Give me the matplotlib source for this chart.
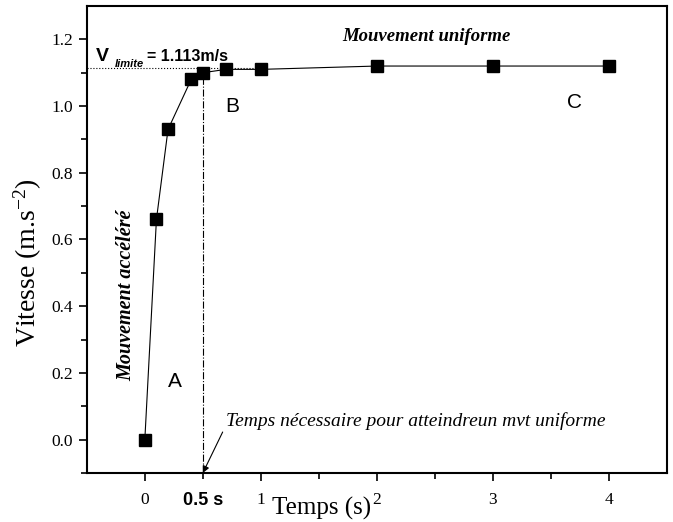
import matplotlib
matplotlib.use('Agg')
import matplotlib.pyplot as plt
import matplotlib.transforms as mtransforms

# donnees
temps = [0, 0.1, 0.2, 0.4, 0.5, 0.7, 1, 2, 3, 4]
vitesse = [0.0, 0.66, 0.93, 1.08, 1.10, 1.11, 1.11, 1.12, 1.12, 1.12]
v_limite = 1.113
t_uniforme = 0.5
x_ticks = [0, 1, 2, 3, 4]
y_ticks = [0.0, 0.2, 0.4, 0.6, 0.8, 1.0, 1.2]

plt.rcParams['mathtext.fontset'] = 'custom'
plt.rcParams['mathtext.rm'] = 'Liberation Serif'
plt.rcParams['mathtext.it'] = 'Liberation Serif:italic'

fig = plt.figure(figsize=(6.73, 5.22), dpi=100)
ax = fig.add_axes([0.129, 0.094, 0.862, 0.8945])

ax.plot(temps, vitesse, color='black', lw=0.8, marker='s', markersize=8,
        markerfacecolor='black', markeredgecolor='black', zorder=3)

# ligne v limite et temps necessaire
ax.plot([-0.5, 1.0], [v_limite, v_limite], color='black', lw=0.8, ls=':', zorder=2)
ax.plot([t_uniforme, t_uniforme], [-0.1, 1.10], color='black', lw=0.8, ls='-.', zorder=2)

ax.set_xlim(-0.5, 4.5)
ax.set_ylim(-0.1, 1.3)
ax.set_xticks(x_ticks)
ax.set_xticks([0.5, 1.5, 2.5, 3.5], minor=True)
ax.set_yticks(y_ticks)
ax.set_yticks([-0.1, 0.1, 0.3, 0.5, 0.7, 0.9, 1.1], minor=True)
ax.set_xticklabels([str(t) for t in x_ticks], family='Liberation Serif', fontsize=12.5)
ax.set_yticklabels(['%.1f' % v for v in y_ticks], family='Liberation Serif', fontsize=12.5)
ax.tick_params(which='major', direction='out', length=6, width=1.2, pad=4)
ax.tick_params(axis='x', which='major', pad=8)
ax.tick_params(which='minor', direction='out', length=4, width=1.2)
for s in ax.spines.values():
    s.set_linewidth(1.5)

trans = mtransforms.blended_transform_factory(ax.transData, ax.transAxes)
ax.text(0.5, -0.04, '0.5 s', transform=trans, ha='center', va='top',
        family='Liberation Sans', fontweight='bold', fontsize=13)

# titres des axes
ax.text(1.52, -0.052, 'Temps (s)', transform=trans, ha='center', va='top',
        family='Liberation Serif', fontsize=18)
ax.text(-1.01, 0.53, r'Vitesse (m.s$^{\mathrm{-2}}$)', rotation=90, ha='center', va='center',
        family='Liberation Serif', fontsize=20, clip_on=False)

# v limite
ax.text(-0.418, 1.135, 'V', ha='left', va='baseline',
        family='Liberation Sans', fontweight='bold', fontsize=14)
ax.text(-0.263, 1.117, 'limite', ha='left', va='baseline',
        family='Liberation Sans', fontweight='bold', style='italic', fontsize=8)
ax.text(0.022, 1.135, '= 1.113m/s', ha='left', va='baseline',
        family='Liberation Sans', fontweight='bold', fontsize=11.5)

# annotations
ax.text(2.43, 1.21, 'Mouvement uniforme', ha='center', va='center',
        family='Liberation Serif', style='italic', fontweight='bold', fontsize=13.5)
ax.text(-0.16, 0.434, 'Mouvement accéléré', rotation=90, ha='center', va='center',
        family='Liberation Serif', style='italic', fontweight='bold', fontsize=14.5)
ax.text(0.255, 0.174, 'A', ha='center', va='center', family='Liberation Sans', fontsize=15)
ax.text(0.75, 1.0, 'B', ha='center', va='center', family='Liberation Sans', fontsize=15)
ax.text(3.70, 1.01, 'C', ha='center', va='center', family='Liberation Sans', fontsize=15)

ax.annotate('Temps nécessaire pour atteindreun mvt uniforme', xy=(0.5, -0.1),
            xytext=(0.70, 0.057), ha='left', va='center',
            family='Liberation Serif', style='italic', fontsize=14,
            arrowprops=dict(arrowstyle='-|>', color='black', lw=0.8,
                            mutation_scale=10, shrinkA=1, shrinkB=0,
                            relpos=(0, 0.25)))

fig.savefig('out.png', dpi=100)
